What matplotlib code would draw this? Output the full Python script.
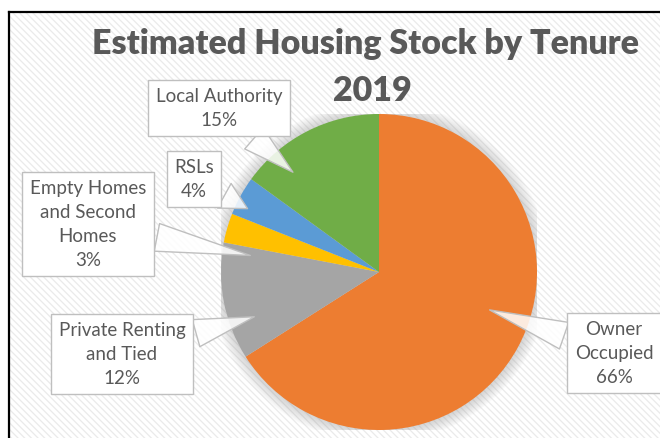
"""Estimated Housing Stock by Tenure 2019 - pie chart with callout labels"""
import matplotlib
matplotlib.use('Agg')
import matplotlib.pyplot as plt
from matplotlib.patches import Rectangle, Circle

# data
tenures = ['Owner Occupied', 'Private Renting and Tied', 'Empty Homes and Second Homes',
           'RSLs', 'Local Authority']
shares = [66, 12, 3, 4, 15]
colors = ['#ED7D31', '#A5A5A5', '#FFC000', '#5B9BD5', '#70AD47']
label_texts = ['Owner\nOccupied', 'Private Renting\nand Tied', 'Empty Homes\nand Second\nHomes',
               'RSLs', 'Local Authority']

# callout layout in image pixels: (text centre x, y, pointer tip x, y)
callouts = [
    (614, 354, 487, 310),
    (122, 355, 257, 317),
    (88, 225, 253, 257),
    (194, 180, 250, 211),
    (219, 109, 295, 175),
]

W, H = 660, 439
plt.rcParams['font.family'] = ['Lato', 'DejaVu Sans']
plt.rcParams['hatch.linewidth'] = 0.9
plt.rcParams['hatch.color'] = '#eaeaea'
TXT = '#595959'

fig = plt.figure(figsize=(W / 100, H / 100), dpi=100)

# background with faint diagonal stripes and the chart frame
bg = fig.add_axes([0, 0, 1, 1])
bg.set_xlim(0, W)
bg.set_ylim(H, 0)
bg.axis('off')
bg.add_patch(Rectangle((9, 13), W, H, facecolor='white', edgecolor='#eaeaea',
                       hatch='\\\\\\\\\\', linewidth=0))
bg.plot([9, 9], [H, 13], color='black', lw=1.6, solid_capstyle='projecting')
bg.plot([9, W], [13, 13], color='black', lw=1.6, solid_capstyle='projecting')

# pie: centre (379, 273), radius 158 px
cx, cy, r = 379, 273, 158
ax = fig.add_axes([(cx - r) / W, (H - cy - r) / H, 2 * r / W, 2 * r / H])
ax.set_zorder(1)
for k in range(10):
    ax.add_patch(Circle((0, 0), 1.0 + 0.008 * (k + 1), color='#888888',
                        alpha=0.035, lw=0, zorder=0))
ax.pie(shares, colors=colors, startangle=90, counterclock=False,
       wedgeprops=dict(linewidth=0))
ax.set_xlim(-1, 1)
ax.set_ylim(-1, 1)
ax.set_aspect('equal')

# labels on top
lab = fig.add_axes([0, 0, 1, 1])
lab.set_zorder(2)
lab.set_xlim(0, W)
lab.set_ylim(H, 0)
lab.axis('off')

for name, share, (tx, ty, px, py) in zip(label_texts, shares, callouts):
    lab.annotate(f'{name}\n{share}%', xy=(px, py), xytext=(tx, ty),
                 ha='center', va='center', fontsize=13.5, color=TXT,
                 linespacing=1.5, annotation_clip=False,
                 bbox=dict(boxstyle='square,pad=0.4', fc='white', ec='#bfbfbf', lw=1),
                 arrowprops=dict(arrowstyle='wedge,tail_width=1.5,shrink_factor=0.5',
                                 fc=(1, 1, 1, 0.85), ec='#bfbfbf', lw=1))

lab.text(366, 44, 'Estimated Housing Stock by Tenure', ha='center', va='center',
         fontsize=24.5, fontweight='heavy', color=TXT)
lab.text(372, 91, '2019', ha='center', va='center',
         fontsize=24.5, fontweight='heavy', color=TXT)

fig.savefig('out.png', dpi=100)
